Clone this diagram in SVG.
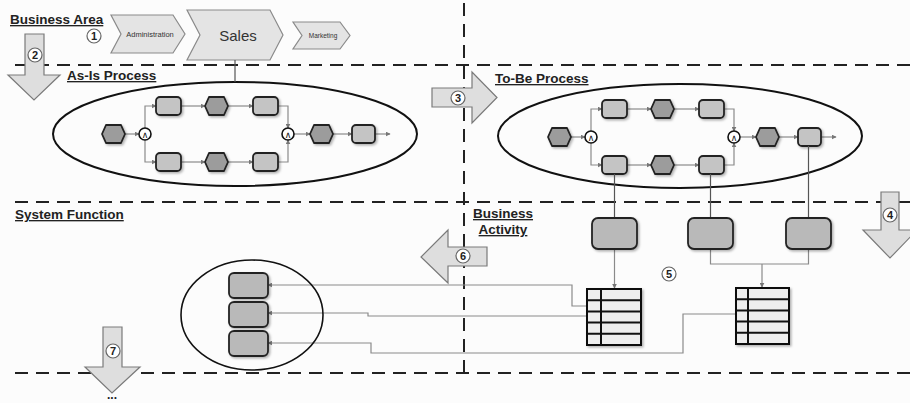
<svg xmlns="http://www.w3.org/2000/svg" width="910" height="403" viewBox="0 0 910 403">
<style>
.bg{fill:#fcfcfc}
.dash{stroke:#222;stroke-width:2;stroke-dasharray:13 8;fill:none}
.title{font-family:"Liberation Sans",Arial,sans-serif;font-weight:bold;font-size:13.5px;fill:#222;text-decoration:underline}
.chev{fill:#e4e4e4;stroke:#8a8a8a;stroke-width:1.2}
.chevt{font-family:"Liberation Sans",Arial,sans-serif;fill:#333;text-anchor:middle}
.big{fill:#dedede;stroke:#7a7a7a;stroke-width:1.2}
.num{fill:#fff;stroke:#666;stroke-width:1.2}
.numt{font-family:"Liberation Sans",Arial,sans-serif;font-weight:bold;font-size:11px;fill:#222;text-anchor:middle}
.ell{fill:none;stroke:#111;stroke-width:2}
.box{fill:#c4c4c4;stroke:#222;stroke-width:1.8;filter:url(#sh)}
.hex{fill:#9c9c9c;stroke:#222;stroke-width:1.8;stroke-linejoin:round;filter:url(#sh)}
.bbox{fill:#b9b9b9;stroke:#222;stroke-width:1.8;filter:url(#sh)}
.gate{fill:#fff;stroke:#111;stroke-width:1.6}
.gt{font-family:"DejaVu Sans",sans-serif;font-size:9px;fill:#111;text-anchor:middle}
.con{fill:none;stroke:#8a8a8a;stroke-width:1.2}
.conA{fill:none;stroke:#8a8a8a;stroke-width:1.2;marker-end:url(#ah)}
.tbl{fill:#eeeeee;stroke:#111;stroke-width:2;filter:url(#sh)}
.tl{stroke:#111;stroke-width:2}
</style>
<defs>
<marker id="ah" viewBox="0 0 8 8" refX="7" refY="4" markerWidth="5" markerHeight="5" orient="auto" markerUnits="userSpaceOnUse">
<path d="M0,0 L8,4 L0,8 z" fill="#777"/>
</marker>
<filter id="sh" x="-20%" y="-20%" width="150%" height="150%">
<feDropShadow dx="1.5" dy="1.5" stdDeviation="1.2" flood-color="#000" flood-opacity="0.3"/>
</filter>
</defs>
<rect class="bg" x="0" y="0" width="910" height="403"/>

<g id="lanes">
<line class="dash" x1="15" y1="65" x2="910" y2="65"/>
<line class="dash" x1="15" y1="202" x2="910" y2="202"/>
<line class="dash" x1="15" y1="373" x2="910" y2="373"/>
<line class="dash" x1="464" y1="3" x2="464" y2="380"/>
</g>

<g id="titles">
<text class="title" x="10" y="24">Business Area</text>
<text class="title" x="67" y="80">As-Is Process</text>
<text class="title" x="495" y="83">To-Be Process</text>
<text class="title" x="15" y="219">System Function</text>
<text class="title" x="503" y="218" text-anchor="middle">Business</text>
<text class="title" x="503" y="234" text-anchor="middle">Activity</text>
</g>

<g id="big-arrows">
<g id="arrow2">
<path class="big" d="M25,34 H44 V75 H60 L34,100 L8,75 H25 Z"/>
<circle class="num" cx="35" cy="55" r="7"/><text class="numt" x="35" y="59">2</text>
</g>
<g id="arrow3">
<path class="big" d="M432,88 H472 V72 L497,97.5 L472,123 V107 H432 Z"/>
<circle class="num" cx="458" cy="98" r="7"/><text class="numt" x="458" y="102">3</text>
</g>
<g id="arrow4">
<path class="big" d="M881,192 H899 V230 H917 L890,258 L863,230 H881 Z"/>
<circle class="num" cx="890" cy="215" r="7"/><text class="numt" x="890" y="219">4</text>
</g>
<g id="arrow6">
<path class="big" d="M487,247 V266 H448 V283 L421,257 L448,230 V247 Z"/>
<circle class="num" cx="463" cy="256" r="7"/><text class="numt" x="463" y="260">6</text>
</g>
<g id="arrow7">
<path class="big" d="M103,327 H122 V367 H140 L112,393 L85,367 H103 Z"/>
<circle class="num" cx="113" cy="351" r="7"/><text class="numt" x="113" y="355">7</text>
<text class="numt" x="112" y="399" style="font-size:12px">...</text>
</g>
</g>

<g id="marker1">
<circle class="num" cx="94" cy="36" r="7"/><text class="numt" x="94" y="40">1</text>
</g>
<g id="marker5">
<circle class="num" cx="669" cy="274" r="7"/><text class="numt" x="669" y="278">5</text>
</g>

<g id="chev-admin">
<path class="chev" d="M111,15 H173 L185,34 L173,53 H111 L121,34 Z"/>
<text class="chevt" x="150" y="37" font-size="7.5">Administration</text>
</g>
<g id="chev-sales">
<path class="chev" d="M187,10 H270 L283,35 L270,60 H187 L200,35 Z"/>
<text class="chevt" x="238" y="41" font-size="15">Sales</text>
</g>
<g id="chev-marketing">
<path class="chev" d="M293,22 H340 L350,35.5 L340,49 H293 L302,35.5 Z"/>
<text class="chevt" x="323" y="38" font-size="6.5">Marketing</text>
</g>

<g id="asis">
<ellipse class="ell" cx="235" cy="134" rx="182" ry="52"/>
<g id="asis-conn">
<path class="conA" d="M125,134 H139"/>
<path class="conA" d="M145,128 V106 H156"/>
<path class="conA" d="M145,140 V162 H156"/>
<path class="conA" d="M181,106 H205"/>
<path class="conA" d="M228,106 H253"/>
<path class="conA" d="M181,162 H205"/>
<path class="conA" d="M228,162 H253"/>
<path class="conA" d="M278,106 H288 V128"/>
<path class="conA" d="M278,162 H288 V140"/>
<path class="conA" d="M294,134 H310"/>
<path class="conA" d="M333,134 H352"/>
<path class="conA" d="M375,134 H390"/>
</g>
<g id="asis-start"><path class="hex" d="M106,125 H121 L125,134 L121,143 H106 L102,134 Z"/></g>
<g id="asis-gate1"><circle class="gate" cx="145" cy="134" r="6"/><text class="gt" x="145" y="137.5">∧</text></g>
<g id="asis-t1"><rect class="box" x="156" y="97" width="25" height="18" rx="4"/></g>
<g id="asis-t2"><path class="hex" d="M209,97 H224 L228,106 L224,115 H209 L205,106 Z"/></g>
<g id="asis-t3"><rect class="box" x="253" y="97" width="25" height="18" rx="4"/></g>
<g id="asis-b1"><rect class="box" x="156" y="153" width="25" height="18" rx="4"/></g>
<g id="asis-b2"><path class="hex" d="M209,153 H224 L228,162 L224,171 H209 L205,162 Z"/></g>
<g id="asis-b3"><rect class="box" x="253" y="153" width="25" height="18" rx="4"/></g>
<g id="asis-gate2"><circle class="gate" cx="288" cy="134" r="6"/><text class="gt" x="288" y="137.5">∧</text></g>
<g id="asis-e1"><path class="hex" d="M314,125 H329 L333,134 L329,143 H314 L310,134 Z"/></g>
<g id="asis-e2"><rect class="box" x="352" y="125" width="23" height="18" rx="4"/></g>
</g>

<g id="tobe">
<ellipse class="ell" cx="680" cy="136" rx="182" ry="52"/>
<g transform="translate(446,3)">
<g id="tobe-conn">
<path class="conA" d="M125,134 H139"/>
<path class="conA" d="M145,128 V106 H156"/>
<path class="conA" d="M145,140 V162 H156"/>
<path class="conA" d="M181,106 H205"/>
<path class="conA" d="M228,106 H253"/>
<path class="conA" d="M181,162 H205"/>
<path class="conA" d="M228,162 H253"/>
<path class="conA" d="M278,106 H288 V128"/>
<path class="conA" d="M278,162 H288 V140"/>
<path class="conA" d="M294,134 H310"/>
<path class="conA" d="M333,134 H352"/>
<path class="conA" d="M375,134 H390"/>
</g>
<g id="tobe-start"><path class="hex" d="M106,125 H121 L125,134 L121,143 H106 L102,134 Z"/></g>
<g id="tobe-gate1"><circle class="gate" cx="145" cy="134" r="6"/><text class="gt" x="145" y="137.5">∧</text></g>
<g id="tobe-t1"><rect class="box" x="156" y="97" width="25" height="18" rx="4"/></g>
<g id="tobe-t2"><path class="hex" d="M209,97 H224 L228,106 L224,115 H209 L205,106 Z"/></g>
<g id="tobe-t3"><rect class="box" x="253" y="97" width="25" height="18" rx="4"/></g>
<g id="tobe-b1"><rect class="box" x="156" y="153" width="25" height="18" rx="4"/></g>
<g id="tobe-b2"><path class="hex" d="M209,153 H224 L228,162 L224,171 H209 L205,162 Z"/></g>
<g id="tobe-b3"><rect class="box" x="253" y="153" width="25" height="18" rx="4"/></g>
<g id="tobe-gate2"><circle class="gate" cx="288" cy="134" r="6"/><text class="gt" x="288" y="137.5">∧</text></g>
<g id="tobe-e1"><path class="hex" d="M314,125 H329 L333,134 L329,143 H314 L310,134 Z"/></g>
<g id="tobe-e2"><rect class="box" x="352" y="125" width="23" height="18" rx="4"/></g>
</g>
</g>

<g id="connectors">
<path class="con" d="M235,60 V82" style="stroke:#555"/>
<path class="con" d="M614.5,174 V218" style="stroke:#555"/>
<path class="con" d="M710.5,174 V218" style="stroke:#555"/>
<path class="con" d="M808.5,146 V218" style="stroke:#555"/>
<path class="conA" d="M614.5,249 V288"/>
<path class="con" d="M710.5,249 V264 H808.5 V249"/>
<path class="conA" d="M762,264 V287"/>
<path class="conA" d="M587,306 H572 V285 H268"/>
<path class="conA" d="M587,316 H368 V313 H268"/>
<path class="conA" d="M736,314 H683 V353 H371 V343 H268"/>
</g>

<g id="ba1"><rect class="bbox" x="592" y="218" width="45" height="31" rx="6"/></g>
<g id="ba2"><rect class="bbox" x="688" y="218" width="45" height="31" rx="6"/></g>
<g id="ba3"><rect class="bbox" x="786" y="218" width="45" height="31" rx="6"/></g>

<g id="table1">
<rect class="tbl" x="587" y="289" width="54" height="56"/>
<line class="tl" x1="601" y1="289" x2="601" y2="345"/>
<line class="tl" x1="587" y1="300.2" x2="641" y2="300.2"/>
<line class="tl" x1="587" y1="311.4" x2="641" y2="311.4"/>
<line class="tl" x1="587" y1="322.6" x2="641" y2="322.6"/>
<line class="tl" x1="587" y1="333.8" x2="641" y2="333.8"/>
</g>
<g id="table2">
<rect class="tbl" x="736" y="288" width="53" height="56"/>
<line class="tl" x1="748" y1="288" x2="748" y2="344"/>
<line class="tl" x1="736" y1="299.2" x2="789" y2="299.2"/>
<line class="tl" x1="736" y1="310.4" x2="789" y2="310.4"/>
<line class="tl" x1="736" y1="321.6" x2="789" y2="321.6"/>
<line class="tl" x1="736" y1="332.8" x2="789" y2="332.8"/>
</g>

<g id="sysfunc">
<ellipse class="ell" cx="252" cy="315" rx="71" ry="55" style="stroke-width:1.6"/>
<g id="sf1"><rect class="bbox" x="229" y="273" width="39" height="25" rx="5"/></g>
<g id="sf2"><rect class="bbox" x="229" y="302" width="39" height="25" rx="5"/></g>
<g id="sf3"><rect class="bbox" x="229" y="331" width="39" height="25" rx="5"/></g>
</g>
</svg>
